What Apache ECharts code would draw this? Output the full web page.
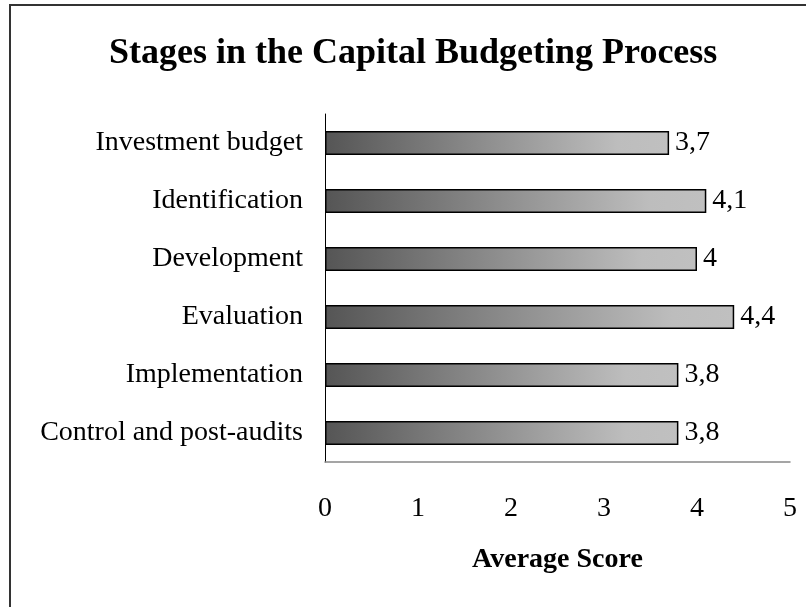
<!DOCTYPE html>
<html>
<head>
<meta charset="utf-8">
<script src="https://cdn.jsdelivr.net/npm/echarts@6/dist/echarts.min.js"></script>
<style>
html,body{margin:0;padding:0;background:#fff;}
#chart{width:806px;height:607px;}
</style>
</head>
<body>
<div id="chart"></div>
<script>
const categories = ["Investment budget","Identification","Development","Evaluation","Implementation","Control and post-audits"];
const values = [3.7, 4.1, 4.0, 4.4, 3.8, 3.8];
const xTicks = [0, 1, 2, 3, 4, 5];
const titleText = "Stages in the Capital Budgeting Process";
const xAxisTitle = "Average Score";

const FONT = "'Liberation Serif', 'Times New Roman', serif";
const chart = echarts.init(document.getElementById('chart'), null, {renderer:'canvas'});
chart.setOption({
  backgroundColor: '#ffffff',
  animation: false,
  title: {
    text: titleText,
    left: 104,
    top: 31,
    textStyle: {fontFamily: FONT, fontSize: 36, fontWeight: 'bold', color: '#000'}
  },
  graphic: [{
    type: 'rect',
    shape: {x: 10, y: 5, width: 820, height: 640},
    style: {fill: 'none', stroke: '#333333', lineWidth: 2},
    silent: true
  }],
  grid: {left: 325, right: 16, top: 114, bottom: 145, containLabel: false},
  xAxis: {
    type: 'value',
    min: xTicks[0],
    max: xTicks[xTicks.length - 1],
    interval: 1,
    axisLine: {show: true, lineStyle: {color: '#888888', width: 1.5}},
    axisTick: {show: false},
    splitLine: {show: false},
    axisLabel: {margin: 33, fontFamily: FONT, fontSize: 28, color: '#000'},
    name: xAxisTitle,
    nameLocation: 'middle',
    nameGap: 84,
    nameTextStyle: {fontFamily: FONT, fontSize: 28, fontWeight: 'bold', color: '#000'}
  },
  yAxis: {
    type: 'category',
    data: categories,
    inverse: true,
    axisLine: {show: true, lineStyle: {color: '#000', width: 1}},
    axisTick: {show: false},
    axisLabel: {margin: 22, fontFamily: FONT, fontSize: 28, color: '#000'}
  },
  series: [{
    type: 'bar',
    data: values,
    barWidth: 24,
    itemStyle: {
      color: new echarts.graphic.LinearGradient(0, 0, 1, 0, [
        {offset: 0, color: '#555555'},
        {offset: 0.85, color: '#bdbdbd'},
        {offset: 1, color: '#c0c0c0'}
      ]),
      borderColor: '#000',
      borderWidth: 1.5
    },
    label: {
      show: true,
      position: 'right',
      distance: 6,
      fontFamily: FONT,
      fontSize: 28,
      color: '#000',
      formatter: p => String(p.value).replace('.', ',')
    }
  }]
});
</script>
</body>
</html>
